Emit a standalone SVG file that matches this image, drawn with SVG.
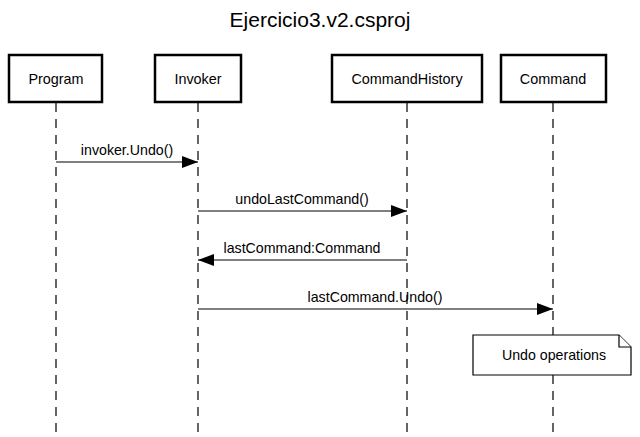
<svg xmlns="http://www.w3.org/2000/svg" width="640" height="437" viewBox="0 0 640 437">
<style>
text{font-family:"Liberation Sans",Arial,sans-serif;fill:#000}
.t{font-size:21px;text-anchor:middle}
.n{font-size:14.4px;text-anchor:middle}
.lbl{font-size:14.2px;text-anchor:middle}
.box{fill:#fff;stroke:#000;stroke-width:2.5}
.life{stroke:#000;stroke-width:1.2;stroke-dasharray:9 7;fill:none}
.msg{stroke:#000;stroke-width:1.2;fill:none}
.note{fill:#fff;stroke:#000;stroke-width:1.2}
</style>
<defs>
<marker id="ah" viewBox="0 0 16 12" refX="16" refY="6" markerWidth="16" markerHeight="12" markerUnits="userSpaceOnUse" orient="auto">
<path d="M0,0 L16,6 L0,12 Z" fill="#000"/>
</marker>
</defs>
<rect width="640" height="437" fill="#fff"/>
<text class="t" x="320" y="27">Ejercicio3.v2.csproj</text>
<g id="lifelines">
<line class="life" x1="56" y1="103" x2="56" y2="437"/>
<line class="life" x1="198" y1="103" x2="198" y2="437"/>
<line class="life" x1="407" y1="103" x2="407" y2="437"/>
<line class="life" x1="553" y1="103" x2="553" y2="437"/>
</g>
<g id="Program"><rect class="box" x="9" y="55" width="93" height="47"/><text class="n" x="56" y="84">Program</text></g>
<g id="Invoker"><rect class="box" x="155" y="55" width="86" height="47"/><text class="n" x="198" y="84">Invoker</text></g>
<g id="CommandHistory"><rect class="box" x="332" y="55" width="150" height="47"/><text class="n" x="407" y="84">CommandHistory</text></g>
<g id="Command"><rect class="box" x="501" y="55" width="105" height="47"/><text class="n" x="553" y="84">Command</text></g>
<g id="connectors">
<line class="msg" x1="56" y1="162" x2="198" y2="162" marker-end="url(#ah)"/>
<text class="lbl" x="127" y="155">invoker.Undo()</text>
<line class="msg" x1="198" y1="211" x2="407" y2="211" marker-end="url(#ah)"/>
<text class="lbl" x="302" y="204">undoLastCommand()</text>
<line class="msg" x1="407" y1="260" x2="198" y2="260" marker-end="url(#ah)"/>
<text class="lbl" x="302" y="253">lastCommand:Command</text>
<line class="msg" x1="198" y1="309" x2="553" y2="309" marker-end="url(#ah)"/>
<text class="lbl" x="375" y="302">lastCommand.Undo()</text>
</g>
<g id="note">
<path class="note" d="M473,335 L619,335 L631,347 L631,375 L473,375 Z"/>
<path class="note" d="M619,335 L619,347 L631,347" fill="none"/>
<text class="lbl" x="554" y="360">Undo operations</text>
</g>
</svg>
